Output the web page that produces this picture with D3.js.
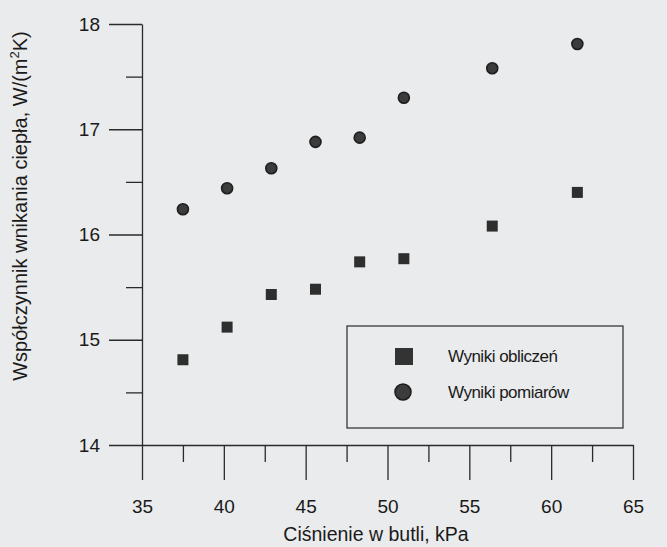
<!DOCTYPE html>
<html>
<head>
<meta charset="utf-8">
<script src="https://cdn.jsdelivr.net/npm/d3@7"></script>
<style>
  body { margin: 0; background: #eaebec; }
  svg { display: block; font-family: "Liberation Sans", Arial, sans-serif; }
  .axis path, .axis line { stroke: #2a2a2a; stroke-width: 1.3px; }
  .axis text { fill: #1a1a1a; font-size: 19px; font-family: "Liberation Sans", Arial, sans-serif; }
</style>
</head>
<body>
<div id="chart"></div>
<script>
// data
const pressure = [37.5, 40.2, 42.9, 45.6, 48.3, 51.0, 56.4, 61.6];
const obliczenia = [14.81, 15.12, 15.43, 15.48, 15.74, 15.77, 16.08, 16.40];
const pomiary = [16.24, 16.44, 16.63, 16.88, 16.92, 17.30, 17.58, 17.81];
const xTicks = [35, 40, 45, 50, 55, 60, 65];
const xMinor = [37.5, 42.5, 47.5, 52.5, 57.5, 62.5];
const yTicks = [14, 15, 16, 17, 18];
const yMinor = [14.5, 15.5, 16.5, 17.5];
const legendLabels = ["Wyniki obliczeń", "Wyniki pomiarów"];

const W = 667, H = 547;
const svg = d3.select("#chart").append("svg")
    .attr("width", W)
    .attr("height", H);

svg.append("rect").attr("width", W).attr("height", H).attr("fill", "#eaebec");

// scales
const x = d3.scaleLinear().domain([35, 65]).range([142, 633]);
const y = d3.scaleLinear().domain([14, 18]).range([445, 24]);

// y axis
svg.append("g").attr("class", "axis")
    .attr("transform", `translate(${x(35)},0)`)
    .call(d3.axisLeft(y).tickValues(yTicks).tickSize(33).tickSizeOuter(0).tickPadding(9).tickFormat(d3.format("d")));
svg.append("g").attr("class", "axis")
    .attr("transform", `translate(${x(35)},0)`)
    .call(d3.axisLeft(y).tickValues(yMinor).tickSize(16).tickFormat(""))
    .select(".domain").remove();

// x axis
svg.append("g").attr("class", "axis")
    .attr("transform", `translate(0,${y(14)})`)
    .call(d3.axisBottom(x).tickValues(xTicks).tickSize(35).tickSizeOuter(0).tickPadding(20).tickFormat(d3.format("d")));
svg.append("g").attr("class", "axis")
    .attr("transform", `translate(0,${y(14)})`)
    .call(d3.axisBottom(x).tickValues(xMinor).tickSize(17).tickFormat(""))
    .select(".domain").remove();

// axis titles
svg.append("text")
    .attr("x", 376).attr("y", 541)
    .attr("text-anchor", "middle")
    .attr("font-size", 19.5).attr("fill", "#1a1a1a")
    .text("Ciśnienie w butli, kPa");

const yt = svg.append("text")
    .attr("transform", "translate(27,206) rotate(-90)")
    .attr("text-anchor", "middle")
    .attr("font-size", 20).attr("fill", "#1a1a1a");
yt.append("tspan").text("Współczynnik wnikania ciepła, W/(m");
yt.append("tspan").attr("font-size", 13).attr("dy", -8).text("2");
yt.append("tspan").attr("dy", 8).text("K)");

// markers
const sq = 11;
svg.append("g").selectAll("rect")
    .data(pressure.map((p, i) => ({p: p, v: obliczenia[i]})))
    .enter().append("rect")
    .attr("x", d => x(d.p) - sq / 2)
    .attr("y", d => y(d.v) - sq / 2)
    .attr("width", sq).attr("height", sq)
    .attr("fill", "#2e2e2e");

svg.append("g").selectAll("circle")
    .data(pressure.map((p, i) => ({p: p, v: pomiary[i]})))
    .enter().append("circle")
    .attr("cx", d => x(d.p))
    .attr("cy", d => y(d.v))
    .attr("r", 5.5)
    .attr("fill", "#3c3c3c")
    .attr("stroke", "#1e1e1e")
    .attr("stroke-width", 1.6);

// legend
const leg = svg.append("g");
leg.append("rect")
    .attr("x", 347).attr("y", 326).attr("width", 276).attr("height", 102)
    .attr("fill", "none").attr("stroke", "#2a2a2a").attr("stroke-width", 1.2);
leg.append("rect")
    .attr("x", 395).attr("y", 348).attr("width", 18).attr("height", 17)
    .attr("fill", "#333");
leg.append("circle")
    .attr("cx", 403).attr("cy", 392).attr("r", 8)
    .attr("fill", "#3c3c3c").attr("stroke", "#1e1e1e").attr("stroke-width", 1.6);
leg.selectAll("text.lab")
    .data(legendLabels)
    .enter().append("text")
    .attr("class", "lab")
    .attr("x", 448)
    .attr("y", (d, i) => 362 + i * 36)
    .attr("font-size", 17).attr("fill", "#1a1a1a")
    .attr("letter-spacing", -0.5)
    .text(d => d);
</script>
</body>
</html>
